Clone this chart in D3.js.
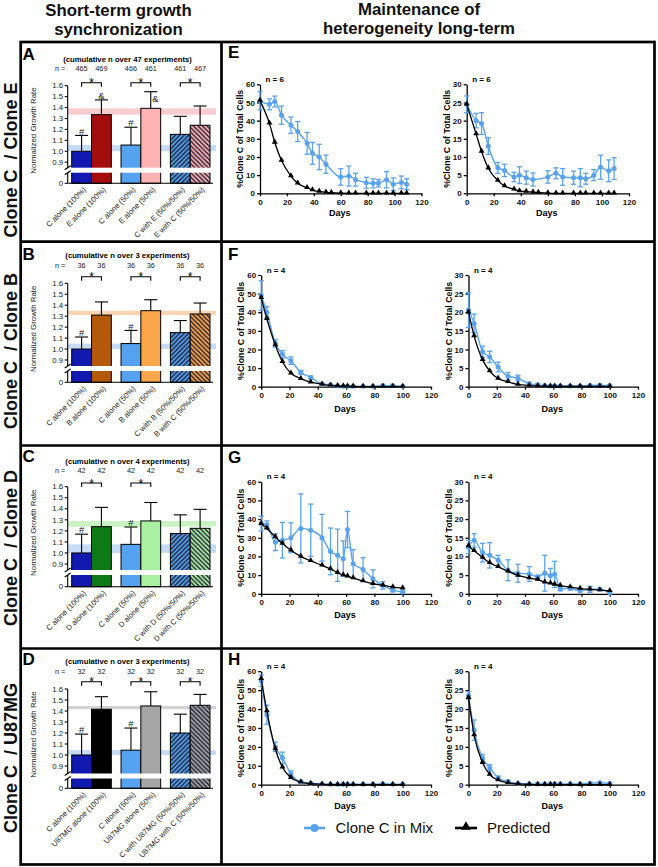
<!DOCTYPE html>
<html><head><meta charset="utf-8">
<script src="https://cdn.jsdelivr.net/npm/d3@7"></script>
<style>
body{margin:0;background:#fff;}
svg{display:block;}
</style></head><body>
<svg id="fig" width="658" height="867"></svg>
<script>
// ---------------- DATA ----------------
const rowLabels = ["Clone C  / Clone E","Clone C  / Clone B","Clone C  / Clone D","Clone C  / U87MG"];
const leftLetters = ["A","B","C","D"];
const rightLetters = ["E","F","G","H"];
const leftTitle = ["Short-term growth","synchronization"];
const rightTitle = ["Maintenance of","heterogeneity long-term"];
const expTitles = ["(cumulative n over 47 experiments)","(cumulative n over 3 experiments)","(cumulative n over 4 experiments)","(cumulative n over 3 experiments)"];

const nE = [465,469,466,461,461,467];
const nB = [36,36,36,36,36,36];
const nD = [42,42,42,42,42,42];
const nU = [32,32,32,32,32,32];

const catE = ["C alone (100%)","E alone (100%)","C alone (50%)","E alone (50%)","C with E (50%/50%)","E with C (50%/50%)"];
const catB = ["C alone (100%)","B alone (100%)","C alone (50%)","B alone (50%)","C with B (50%/50%)","B with C (50%/50%)"];
const catD = ["C alone (100%)","D alone (100%)","C alone (50%)","D alone (50%)","C with D (50%/50%)","D with C (50%/50%)"];
const catU = ["C alone (100%)","U87MG alone (100%)","C alone (50%)","U87MG alone (50%)","C with U87MG (50%/50%)","U87MG with C (50%/50%)"];

const meanE = [1.00,1.335,1.057,1.393,1.155,1.238];
const sdE   = [0.145,0.135,0.163,0.152,0.165,0.176];
const meanB = [1.00,1.31,1.05,1.35,1.15,1.32];
const sdB   = [0.11,0.12,0.12,0.10,0.11,0.10];
const meanD = [1.00,1.238,1.078,1.29,1.176,1.223];
const sdD   = [0.17,0.175,0.157,0.167,0.169,0.172];
const meanU = [1.00,1.416,1.044,1.446,1.20,1.452];
const sdU   = [0.19,0.114,0.201,0.129,0.171,0.099];

const barTicks = [0.9,1.0,1.1,1.2,1.3,1.4,1.5,1.6];
const starPairs = [[0,1,2],[0,1,2],[0,1],[0,1,2]];
const hashBars = [0,2];
const ampBarsE = [1,3];

const dayTicks = [0,20,40,60,80,100,120];
const leftYTicks = [0,10,20,30,40,50,60];
const rightYTicks = [0,5,10,15,20,25,30];
const nLabels = ["n = 6","n = 4","n = 4","n = 4"];

const daysE     = [0,7,11,16,23,28,35,39,44,49,60,66,71,79,84,88,94,99,105,109];
const daysEPred = [0,7,11,16,23,28,35,39,44,49,53,60,66,71,79,84,88,94,99,105,109];
const daysLong  = [0,4,10,15,21,28,35,43,49,54,58,61,65,72,79,86,93,100];

const mixE1  = [51,49,50.5,43,37.5,34,27.5,22,20,16,9,9.5,7.5,5.8,5.5,5.5,7.5,5,6,5];
const sdE1   = [5,3,3,5,4.5,5.5,6,6,7,5,4.5,5.5,3.5,3,2.5,2,4.5,3.5,3.5,3];
const predE1 = [51,38.5,28,18,9.5,5.5,3,1.8,1.0,0.5,0.3,0.1,0,0,0,0,0,0,0,0,0];
const mixE2  = [24.5,20,19.2,13,7,6.3,4.5,5,4.3,3.8,4.5,5.5,4.5,4.3,4.3,4,5,7.2,6.2,6.8];
const sdE2   = [2.3,2,3,2.3,1.5,1.7,1.3,2.3,1.8,1.8,1.7,1.5,2.3,1.8,2.5,1.5,1.5,3.3,3,3];
const predE2 = [24.5,16.3,11.5,6.9,3.5,2.0,1.1,0.6,0.45,0.3,0.2,0.05,0,0,0,0,0,0,0,0,0];

const mixF1  = [49,40,23.3,17.4,14,7.7,5,1.5,1,0.5,0.3,0.3,0.2,0.2,0.3,0.6,0.6,0.2];
const sdF1   = [8,3,2,2,2,1,0.7,0.5,0.3,0.2,0.2,0.2,0.2,0.2,0.2,0.4,0.4,0.2];
const predF1 = [47.8,36.5,22.4,13.4,7.2,4.3,2.4,1.3,0.7,0.4,0.25,0.2,0.1,0.05,0.05,0.05,0.05,0.05];
const mixF2  = [20.6,17,9.4,8,5.3,2.8,2.3,0.8,0.5,0.3,0.2,0.2,0.2,0.2,0.2,0.3,0.4,0.3];
const sdF2   = [4.7,2.5,1.5,1.5,1.3,1,0.8,0.4,0.3,0.2,0.2,0.2,0.2,0.2,0.2,0.3,0.3,0.2];
const predF2 = [20,13.6,7.2,4.2,2.2,1.3,0.6,0.3,0.2,0.1,0.05,0.05,0.05,0.05,0.05,0.05,0.05,0.05];

const mixG1  = [37.6,37,27.6,28.7,30,35,34,30,22.7,20.6,18.8,34.4,16.1,13,8,4.5,2,0.9];
const sdG1   = [4,2,4.5,9.5,8,18.5,14,12.5,12.5,14,9.5,9.7,7.5,6.3,4.8,2,1,0.5];
const predG1 = [37.5,35,30.4,26.9,23.3,20,17.6,15.2,13.3,11.3,10,9.4,8.4,6.8,5.4,4.5,3.6,3];
const mixG2  = [12.5,14.3,11,10.3,9,6.3,5.5,5.3,4.5,5.5,4.8,5.2,1.3,1.5,0.8,1.2,1.2,0.2];
const sdG2   = [1.8,1.8,2.5,3.4,1.3,2.8,2.4,2,0.5,4.8,2,3.5,0.5,0.5,0.6,0.8,0.3,0.2];
const predG2 = [12.8,11.5,9.7,8.3,7.2,6,4.9,4.2,3.8,3.1,2.8,2.5,2.2,1.8,1.4,1.2,1.0,0.8];

const mixH1  = [55,37,20,14.2,5.8,1.5,0.8,0.4,0.3,0.2,0.2,0.2,0.2,0.2,0.2,0.5,0.3,0.3];
const sdH1   = [3,5,2.5,3,1.5,0.8,0.4,0.3,0.2,0.2,0.2,0.2,0.2,0.2,0.2,0.3,0.2,0.2];
const predH1 = [56,38.9,18.9,9.2,3.7,1.4,0.5,0.2,0.05,0,0,0,0,0,0,0,0,0];
const mixH2  = [23.6,14.4,7,4.5,1.8,0.8,0.3,0.2,0.2,0.2,0.2,0.2,0.2,0.2,0.2,0.4,0.5,0.3];
const sdH2   = [1,2.7,1,0.8,0.5,0.4,0.2,0.2,0.2,0.2,0.2,0.2,0.2,0.2,0.2,0.2,0.2,0.2];
const predH2 = [23,13.1,5.8,2.7,1.2,0.5,0.2,0.05,0,0,0,0,0,0,0,0,0,0];

const legendLabels = ["Clone C in Mix","Predicted"];

// ---------------- STYLE / LAYOUT ----------------
const FONT = '"Liberation Sans", Arial, Helvetica, sans-serif';
const darkBlue = "#1219b0", lightBlue = "#55a2f0", bandBlue = "#c6dbf5";
const mixColor = "#5aa3ec";
const stripe = "#1a1a30";
const palettes = [
  {dark:"#a50d0d", light:"#ffb2b2", band:"#f8cdd0"},
  {dark:"#b4580a", light:"#fca64c", band:"#fbd5b3"},
  {dark:"#0e7a14", light:"#a9f0a2", band:"#c8f2c2"},
  {dark:"#000000", light:"#a5a5a5", band:"#d2d2d2"}
];
const barLayout = [
  {letterY:60,  titleY:61.5, nY:70.5, brY:82.7,  yTop:85.7,  y09:162.2, y0:183.3, breakY:167.7, labelCY:160},
  {letterY:260, titleY:258,  nY:267.5,brY:276.7, yTop:283.3, y09:360,   y0:382.3, breakY:366,   labelCY:351},
  {letterY:462, titleY:463.5,nY:473,  brY:483,   yTop:486.7, y09:564,   y0:586.7, breakY:570,   labelCY:548},
  {letterY:665, titleY:663.5,nY:674,  brY:681.7, yTop:689,   y09:766,   y0:788.3, breakY:773.5, labelCY:758}
];
const lineLayout = [
  {letterY:58,  yTop:84.3,  yBot:193.3, xs:[[260,421.5],[466.7,629]], daysY:216},
  {letterY:260, yTop:275,   yBot:386.7, xs:[[261.2,431],[468.5,638]], daysY:412},
  {letterY:463, yTop:481.7, yBot:593.8, xs:[[261.2,431],[468.5,638]], daysY:618},
  {letterY:665, yTop:671.2, yBot:784.7, xs:[[261.2,431],[468.5,638]], daysY:809}
];

const barCats = [catE,catB,catD,catU];
const barMeans = [meanE,meanB,meanD,meanU];
const barSDs = [sdE,sdB,sdD,sdU];
const barNs = [nE,nB,nD,nU];
const lineSets = [
  [{days:daysE,mix:mixE1,sd:sdE1,pdays:daysEPred,pred:predE1},{days:daysE,mix:mixE2,sd:sdE2,pdays:daysEPred,pred:predE2}],
  [{days:daysLong,mix:mixF1,sd:sdF1,pdays:daysLong,pred:predF1},{days:daysLong,mix:mixF2,sd:sdF2,pdays:daysLong,pred:predF2}],
  [{days:daysLong,mix:mixG1,sd:sdG1,pdays:daysLong,pred:predG1},{days:daysLong,mix:mixG2,sd:sdG2,pdays:daysLong,pred:predG2}],
  [{days:daysLong,mix:mixH1,sd:sdH1,pdays:daysLong,pred:predH1},{days:daysLong,mix:mixH2,sd:sdH2,pdays:daysLong,pred:predH2}]
];

const svg = d3.select("#fig").attr("font-family", FONT);
const defs = svg.append("defs");
function hatch(id, bg, dir){
  const s = 4.5;
  const p = defs.append("pattern").attr("id",id).attr("patternUnits","userSpaceOnUse").attr("width",s).attr("height",s);
  p.append("rect").attr("width",s).attr("height",s).attr("fill",bg);
  const d = dir === "/" ? `M-1,1 l2,-2 M0,${s} l${s},-${s} M${s-1},${s+1} l2,-2`
                        : `M-1,${s-1} l2,2 M0,0 l${s},${s} M${s-1},-1 l2,2`;
  p.append("path").attr("d",d).attr("stroke",stripe).attr("stroke-width",1.35);
}
hatch("hb", lightBlue, "/");
palettes.forEach((p,i)=>hatch("hp"+i, p.light, "\\"));

// ---------------- TITLES ----------------
const T = svg.append("g").attr("font-weight","bold").attr("font-size",16.8).attr("text-anchor","middle").attr("fill","#111");
T.append("text").attr("x",118.5).attr("y",15.8).text(leftTitle[0]);
T.append("text").attr("x",118.5).attr("y",34.7).text(leftTitle[1]);
T.append("text").attr("x",419).attr("y",14.6).text(rightTitle[0]);
T.append("text").attr("x",419).attr("y",33.5).text(rightTitle[1]);

// ---------------- BAR PANELS ----------------
function drawBarPanel(i){
  const L = barLayout[i], pal = palettes[i];
  const cats = barCats[i], means = barMeans[i], sds = barSDs[i], ns = barNs[i];
  const g = svg.append("g");
  const axisX = 67.7;
  const xGroup = d3.scaleBand().domain([0,1,2]).range([71.7,210]).paddingInner(0.197).paddingOuter(0);
  const xInner = d3.scaleBand().domain([0,1]).range([0,xGroup.bandwidth()]);
  const bw = xInner.bandwidth();
  const xBar = k => xGroup(Math.floor(k/2)) + xInner(k%2);
  const xC = k => xBar(k) + bw/2;
  const y = d3.scaleLinear().domain([0.9,1.6]).range([L.y09, L.yTop]);
  const gap = 5;
  const fills = [darkBlue, pal.dark, lightBlue, pal.light, "url(#hb)", `url(#hp${i})`];

  svg.append("text").attr("transform",`translate(16.5,${L.labelCY}) rotate(-90)`).attr("text-anchor","middle")
    .attr("font-size",18).attr("font-weight","bold").attr("fill","#111").style("white-space","pre").text(rowLabels[i]);
  g.append("text").attr("x",22.5).attr("y",L.letterY).attr("font-size",17).attr("font-weight","bold").text(leftLetters[i]);
  g.append("text").attr("x",127.5).attr("y",L.titleY).attr("text-anchor","middle").attr("font-size",7.7).attr("font-weight","bold").text(expTitles[i]);
  g.append("text").attr("x",55).attr("y",L.nY).attr("font-size",7.3).attr("fill","#222").text("n =");
  g.selectAll(".nv").data(ns).join("text").attr("class","nv").attr("x",(d,k)=>xC(k)).attr("y",L.nY).attr("text-anchor","middle")
    .attr("font-size",7.3).attr("fill","#222").text(d=>d);

  const bands = [[means[0],means[2],bandBlue],[means[1],means[3],pal.band]];
  g.selectAll(".band").data(bands).join("rect").attr("class","band").attr("x",axisX+0.5).attr("width",216-axisX-0.5)
    .attr("y",d=>y(Math.max(d[0],d[1]))).attr("height",d=>Math.abs(y(d[0])-y(d[1]))).attr("fill",d=>d[2]);

  g.selectAll(".bar").data(means).join("rect").attr("class","bar").attr("x",(d,k)=>xBar(k)).attr("width",bw)
    .attr("y",d=>y(d)).attr("height",d=>L.y0-y(d)).attr("fill",(d,k)=>fills[k]).attr("stroke","#000").attr("stroke-width",1);
  g.append("rect").attr("x",axisX-6).attr("width",216-axisX+6).attr("y",L.breakY).attr("height",gap).attr("fill","#fff");
  const eb = g.selectAll(".eb").data(means).join("g").attr("class","eb");
  eb.append("line").attr("x1",(d,k)=>xC(k)).attr("x2",(d,k)=>xC(k)).attr("y1",d=>y(d)).attr("y2",(d,k)=>y(d+sds[k]))
    .attr("stroke","#000").attr("stroke-width",1.1);
  eb.append("line").attr("x1",(d,k)=>xC(k)-6.5).attr("x2",(d,k)=>xC(k)+6.5).attr("y1",(d,k)=>y(d+sds[k])).attr("y2",(d,k)=>y(d+sds[k]))
    .attr("stroke","#000").attr("stroke-width",1.1);
  const ax = g.append("g").attr("stroke","#000").attr("stroke-width",1.1);
  ax.append("line").attr("x1",axisX).attr("x2",axisX).attr("y1",L.yTop).attr("y2",L.breakY);
  ax.append("line").attr("x1",axisX).attr("x2",axisX).attr("y1",L.breakY+gap).attr("y2",L.y0);
  ax.append("line").attr("x1",axisX).attr("x2",213).attr("y1",L.y0).attr("y2",L.y0);
  ax.selectAll(".tk").data(barTicks).join("line").attr("class","tk").attr("x1",axisX-3).attr("x2",axisX).attr("y1",d=>y(d)).attr("y2",d=>y(d));
  ax.append("line").attr("x1",axisX-3).attr("x2",axisX).attr("y1",L.y0).attr("y2",L.y0);
  [L.breakY, L.breakY+gap].forEach(yy=>{
    ax.append("line").attr("x1",axisX-3).attr("x2",axisX+3).attr("y1",yy+2).attr("y2",yy-2);
  });
  g.selectAll(".tl").data(barTicks).join("text").attr("class","tl").attr("x",axisX-4.5).attr("y",d=>y(d)+2.7).attr("text-anchor","end")
    .attr("font-size",7.8).attr("fill","#222").text(d=>d3.format(".1f")(d));
  g.append("text").attr("x",axisX-4.5).attr("y",L.y0+2.7).attr("text-anchor","end").attr("font-size",7.8).attr("fill","#222").text("0");
  g.append("text").attr("transform",`translate(35.5,${(L.yTop+L.y0)/2-4}) rotate(-90)`).attr("text-anchor","middle")
    .attr("font-size",7.9).attr("fill","#222").text("Normalized Growth Rate");
  g.selectAll(".xl").data(cats).join("text").attr("class","xl").attr("transform",(d,k)=>`translate(${xC(k)+5},${L.y0+7}) rotate(-45)`)
    .attr("text-anchor","end").attr("font-size",7.6).attr("fill","#222").text(d=>d);
  starPairs[i].forEach(p=>{
    const x1 = xC(2*p), x2 = xC(2*p+1);
    g.append("path").attr("d",`M${x1},${L.brY+4}V${L.brY}H${x2}V${L.brY+4}`).attr("fill","none").attr("stroke","#000").attr("stroke-width",1.1);
    g.append("text").attr("x",(x1+x2)/2).attr("y",L.brY+4.5).attr("text-anchor","middle").attr("font-size",12).text("*");
  });
  hashBars.forEach(k=>{
    g.append("text").attr("x",xC(k)).attr("y",y(means[k]+sds[k])-0.8).attr("text-anchor","middle").attr("font-size",9.5).attr("fill","#222").text("#");
  });
  if(i===0){
    g.append("text").attr("x",xC(ampBarsE[0])).attr("y",y(means[1]+sds[1])-0.8).attr("text-anchor","middle").attr("font-size",9.5).attr("fill","#222").text("&");
    g.append("text").attr("x",xC(ampBarsE[1])+1.5).attr("y",y(means[3]+sds[3])+10).attr("text-anchor","start").attr("font-size",9.5).attr("fill","#222").text("&");
  }
}

// ---------------- LINE PANELS ----------------
function drawLineChart(row, side){
  const L = lineLayout[row];
  const S = lineSets[row][side];
  const yMax = side===0 ? 60 : 30;
  const yT = side===0 ? leftYTicks : rightYTicks;
  const [x0,x1] = L.xs[side];
  const x = d3.scaleLinear().domain([0,120]).range([x0,x1]);
  const y = d3.scaleLinear().domain([0,yMax]).range([L.yBot,L.yTop]);
  const g = svg.append("g");

  const xa = g.append("g").attr("transform",`translate(0,${L.yBot})`)
    .call(d3.axisBottom(x).tickValues(dayTicks).tickSize(3).tickSizeOuter(0).tickPadding(3));
  const ya = g.append("g").attr("transform",`translate(${x0},0)`)
    .call(d3.axisLeft(y).tickValues(yT).tickSize(3).tickSizeOuter(0).tickPadding(2));
  [xa,ya].forEach(a=>{
    a.selectAll("path,line").attr("stroke","#000").attr("stroke-width",1.3);
    a.selectAll("text").attr("font-size",8).attr("font-weight","bold").attr("font-family",FONT).attr("fill","#111");
  });
  g.append("text").attr("x",(x0+x1)/2-1).attr("y",L.daysY).attr("text-anchor","middle").attr("font-size",9).attr("font-weight","bold").text("Days");
  g.append("text").attr("transform",`translate(${x0-17},${(L.yTop+L.yBot)/2}) rotate(-90)`).attr("text-anchor","middle")
    .attr("font-size",8.8).attr("font-weight","bold").text("%Clone C of Total Cells");
  g.append("text").attr("x",x0+5.5).attr("y",L.yTop-2.5).attr("font-size",8).attr("font-weight","bold").text(nLabels[row]);

  const line = d3.line().x(d=>x(d[0])).y(d=>y(d[1])).curve(d3.curveMonotoneX);
  const mixPts = S.days.map((d,k)=>[d,S.mix[k],S.sd[k]]);
  const predPts = S.pdays.map((d,k)=>[d,S.pred[k]]);
  g.append("path").datum(mixPts).attr("d",line).attr("fill","none").attr("stroke",mixColor).attr("stroke-width",1.4);
  const eb = g.selectAll(".meb").data(mixPts).join("g").attr("class","meb").attr("stroke",mixColor).attr("stroke-width",1.3);
  eb.append("line").attr("x1",d=>x(d[0])).attr("x2",d=>x(d[0])).attr("y1",d=>y(Math.max(0,d[1]-d[2]))).attr("y2",d=>y(d[1]+d[2]));
  eb.append("line").attr("x1",d=>x(d[0])-2.6).attr("x2",d=>x(d[0])+2.6).attr("y1",d=>y(d[1]+d[2])).attr("y2",d=>y(d[1]+d[2]));
  eb.filter(d=>d[1]-d[2]>0.3).append("line").attr("x1",d=>x(d[0])-2.6).attr("x2",d=>x(d[0])+2.6).attr("y1",d=>y(d[1]-d[2])).attr("y2",d=>y(d[1]-d[2]));
  g.selectAll(".mdot").data(mixPts).join("circle").attr("class","mdot").attr("cx",d=>x(d[0])).attr("cy",d=>y(d[1])).attr("r",2.5).attr("fill",mixColor);
  g.append("path").datum(predPts).attr("d",line).attr("fill","none").attr("stroke","#000").attr("stroke-width",1.3);
  const tri = d3.symbol().type(d3.symbolTriangle).size(15);
  g.selectAll(".tri").data(predPts).join("path").attr("class","tri").attr("d",tri).attr("transform",d=>`translate(${x(d[0])},${y(d[1])-0.5})`).attr("fill","#000");
}

function drawLineRow(row){
  const L = lineLayout[row];
  svg.append("text").attr("x",228).attr("y",L.letterY).attr("font-size",17).attr("font-weight","bold").text(rightLetters[row]);
  drawLineChart(row,0);
  drawLineChart(row,1);
}

for(let i=0;i<4;i++){ drawBarPanel(i); drawLineRow(i); }

// ---------------- LEGEND ----------------
const lg = svg.append("g");
lg.append("line").attr("x1",304).attr("x2",325).attr("y1",828).attr("y2",828).attr("stroke",mixColor).attr("stroke-width",2.6);
lg.append("circle").attr("cx",314.5).attr("cy",828).attr("r",4).attr("fill",mixColor);
lg.append("text").attr("x",335.5).attr("y",833).attr("font-size",15).attr("fill","#111").text(legendLabels[0]);
lg.append("line").attr("x1",455).attr("x2",477).attr("y1",828).attr("y2",828).attr("stroke","#000").attr("stroke-width",2.6);
lg.append("path").attr("d",d3.symbol().type(d3.symbolTriangle).size(42)).attr("transform","translate(466,827)").attr("fill","#000");
lg.append("text").attr("x",487).attr("y",833).attr("font-size",15).attr("fill","#111").text(legendLabels[1]);

// ---------------- FRAMES ----------------
const fr = svg.append("g").attr("stroke","#000").attr("stroke-width",2.7).attr("fill","none");
fr.append("rect").attr("x",20.7).attr("y",42).attr("width",654.5-20.7).attr("height",864.5-42);
fr.append("line").attr("x1",221.5).attr("x2",221.5).attr("y1",42).attr("y2",864.5);
[241.7,445.5,648.5].forEach(yy=>fr.append("line").attr("x1",20.7).attr("x2",654.5).attr("y1",yy).attr("y2",yy));
</script>
</body></html>
